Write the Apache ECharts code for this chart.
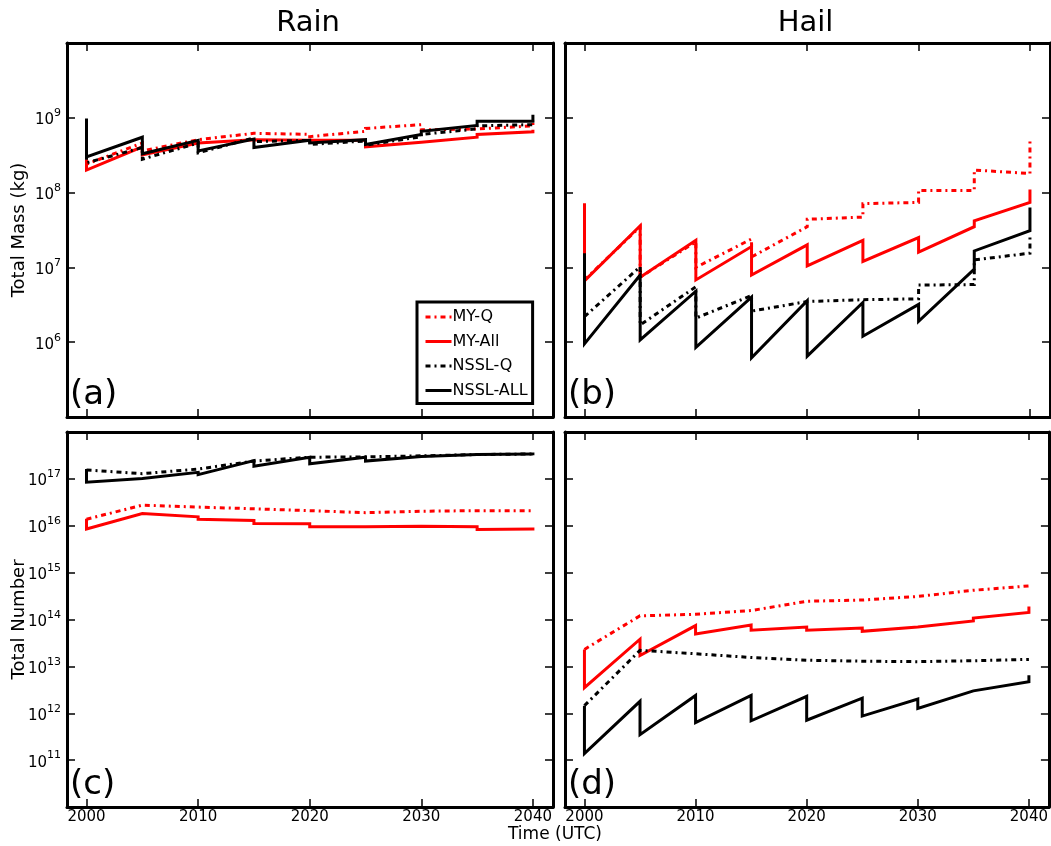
<!DOCTYPE html>
<html>
<head>
<meta charset="utf-8">
<script src="https://cdn.jsdelivr.net/npm/echarts@6/dist/echarts.min.js"></script>
<style>
html,body{margin:0;padding:0;background:#fff;}
#chart{width:1051px;height:846px;}
</style>
</head>
<body>
<div id="chart"></div>
<script>
// ---------- data ----------
const panelTitles = ['Rain', 'Hail'];
const panelLetters = ['(a)', '(b)', '(c)', '(d)'];
const yAxisNames = ['Total Mass (kg)', 'Total Number'];
const xAxisName = 'Time (UTC)';
const xTickValues = [2000, 2010, 2020, 2030, 2040];
const seriesNames = ['MY-Q', 'MY-All', 'NSSL-Q', 'NSSL-ALL'];

// (a) Rain total mass [time, kg]
const rainMassMYQ = [[2000,2.6e8],[2000,2.4e8],[2005,4.6e8],[2005,3.6e8],[2010,5.1e8],[2015,6.2e8],[2020,6.0e8],[2020,5.6e8],[2025,6.6e8],[2025,7.2e8],[2030,8.1e8],[2030,6.9e8],[2035,7.1e8],[2040,7.8e8],[2040,8.5e8]];
const rainMassMYAll = [[2000,2.8e8],[2000,2.0e8],[2005,4.1e8],[2005,3.2e8],[2010,4.6e8],[2010,4.5e8],[2015,5.1e8],[2015,4.8e8],[2020,5.0e8],[2020,4.8e8],[2025,5.0e8],[2025,4.1e8],[2030,4.7e8],[2035,5.5e8],[2035,6.0e8],[2040,6.5e8],[2040,6.9e8]];
const rainMassNSSLQ = [[2000,3.2e8],[2000,2.5e8],[2005,4.0e8],[2005,2.8e8],[2010,4.6e8],[2010,3.4e8],[2015,5.4e8],[2015,4.8e8],[2020,5.0e8],[2020,4.4e8],[2025,4.9e8],[2025,4.3e8],[2030,5.6e8],[2030,6.0e8],[2035,7.1e8],[2035,7.8e8],[2040,8.1e8],[2040,9.1e8]];
const rainMassNSSLAll = [[2000,9.8e8],[2000,3.0e8],[2005,5.5e8],[2005,3.3e8],[2010,5.0e8],[2010,3.6e8],[2015,5.2e8],[2015,4.0e8],[2020,5.0e8],[2020,4.6e8],[2025,5.1e8],[2025,4.4e8],[2030,6.0e8],[2030,6.6e8],[2035,7.9e8],[2035,9.0e8],[2040,9.0e8],[2040,1.1e9]];

// (b) Hail total mass [time, kg]
const hailMassMYQ = [[2000,6.8e6],[2005,3.5e7],[2005,7.4e6],[2010,2.2e7],[2010,1.0e7],[2015,2.4e7],[2015,1.38e7],[2020,3.5e7],[2020,4.4e7],[2025,4.7e7],[2025,7.1e7],[2030,7.4e7],[2030,1.07e8],[2035,1.07e8],[2035,2.0e8],[2040,1.8e8],[2040,5.1e8]];
const hailMassMYAll = [[2000,7.2e7],[2000,6.6e6],[2005,3.6e7],[2005,7.4e6],[2010,2.3e7],[2010,6.8e6],[2015,1.9e7],[2015,7.9e6],[2020,2.0e7],[2020,1.05e7],[2025,2.3e7],[2025,1.2e7],[2030,2.5e7],[2030,1.6e7],[2035,3.5e7],[2035,4.2e7],[2040,7.4e7],[2040,1.1e8]];
const hailMassNSSLQ = [[2000,2.2e6],[2005,1.02e7],[2005,1.7e6],[2010,5.5e6],[2010,2.1e6],[2015,4.2e6],[2015,2.6e6],[2020,3.5e6],[2025,3.7e6],[2030,3.8e6],[2030,5.8e6],[2035,5.9e6],[2035,1.26e7],[2040,1.55e7],[2040,2.7e7]];
const hailMassNSSLAll = [[2000,1.55e7],[2000,9.5e5],[2005,7.9e6],[2005,1.07e6],[2010,4.8e6],[2010,8.5e5],[2015,4.0e6],[2015,6.2e5],[2020,3.6e6],[2020,6.5e5],[2025,3.4e6],[2025,1.2e6],[2030,3.2e6],[2030,1.9e6],[2035,9.5e6],[2035,1.66e7],[2040,3.1e7],[2040,6.3e7]];

// (c) Rain total number [time, count]
const rainNumMYQ = [[2000,1.38e16],[2005,2.75e16],[2010,2.5e16],[2015,2.3e16],[2020,2.1e16],[2025,1.9e16],[2030,2.04e16],[2035,2.1e16],[2040,2.1e16]];
const rainNumMYAll = [[2000,1.41e16],[2000,8.5e15],[2005,1.82e16],[2010,1.55e16],[2010,1.38e16],[2015,1.29e16],[2015,1.12e16],[2020,1.1e16],[2020,9.5e15],[2025,9.5e15],[2025,8.9e15],[2030,9.8e15],[2030,8.9e15],[2035,9.5e15],[2035,8.3e15],[2040,8.5e15],[2040,7.9e15]];
const rainNumNSSLQ = [[2000,1.55e17],[2005,1.29e17],[2010,1.62e17],[2015,2.4e17],[2020,2.9e17],[2025,2.95e17],[2030,3.1e17],[2035,3.3e17],[2040,3.4e17]];
const rainNumNSSLAll = [[2000,1.62e17],[2000,8.5e16],[2005,1.02e17],[2010,1.38e17],[2010,1.23e17],[2015,2.45e17],[2015,1.86e17],[2020,2.9e17],[2020,2.1e17],[2025,2.9e17],[2025,2.4e17],[2030,3.0e17],[2035,3.3e17],[2035,3.2e17],[2040,3.4e17],[2040,3.2e17]];

// (d) Hail total number [time, count]
const hailNumMYQ = [[2000,2.3e13],[2005,1.2e14],[2010,1.29e14],[2015,1.55e14],[2020,2.45e14],[2025,2.6e14],[2030,3.1e14],[2035,4.2e14],[2040,5.2e14]];
const hailNumMYAll = [[2000,2.3e13],[2000,3.5e12],[2005,3.8e13],[2005,1.7e13],[2010,7.4e13],[2010,4.9e13],[2015,7.6e13],[2015,5.9e13],[2020,6.9e13],[2020,5.9e13],[2025,6.6e13],[2025,5.6e13],[2030,6.9e13],[2030,6.3e13],[2035,9.3e13],[2035,1.07e14],[2040,1.41e14],[2040,1.9e14]];
const hailNumNSSLQ = [[2000,1.45e12],[2005,2.2e13],[2010,1.86e13],[2015,1.55e13],[2020,1.35e13],[2025,1.29e13],[2030,1.26e13],[2035,1.32e13],[2040,1.41e13]];
const hailNumNSSLAll = [[2000,1.45e12],[2000,1.38e11],[2005,1.8e12],[2005,3.5e11],[2010,2.4e12],[2010,6.3e11],[2015,2.4e12],[2015,6.9e11],[2020,2.3e12],[2020,7.1e11],[2025,2.1e12],[2025,8.7e11],[2030,2.0e12],[2030,1.26e12],[2035,3.0e12],[2040,4.7e12],[2040,6.5e12]];

const panelData = [
  [rainMassMYQ, rainMassMYAll, rainMassNSSLQ, rainMassNSSLAll],
  [hailMassMYQ, hailMassMYAll, hailMassNSSLQ, hailMassNSSLAll],
  [rainNumMYQ, rainNumMYAll, rainNumNSSLQ, rainNumNSSLAll],
  [hailNumMYQ, hailNumMYAll, hailNumNSSLQ, hailNumNSSLAll]
];
const yRanges = [[1e5, 1e10], [1e5, 1e10], [1e10, 1e18], [1e10, 1e18]];
const xRange = [1998.25, 2041.8];

// ---------- styling ----------
const FONT = 'DejaVu Sans';
const seriesColors = ['#ff0000', '#ff0000', '#000000', '#000000'];
const dashDot = [5, 4, 2, 4];
const seriesDash = [dashDot, 'solid', dashDot, 'solid'];

const grids = [
  {left: 67, top: 43, width: 486, height: 374},
  {left: 565, top: 43, width: 485, height: 374},
  {left: 67, top: 432, width: 486, height: 375},
  {left: 565, top: 432, width: 485, height: 375}
];

const axisLine = {show: true, onZero: false, lineStyle: {color: '#000', width: 3}};
const xAxes = [], yAxes = [], series = [];
grids.forEach((g, i) => {
  const bottomRow = i >= 2, leftCol = (i % 2 === 0);
  const xBase = {
    type: 'value', gridIndex: i, min: xRange[0], max: xRange[1],
    axisLine: axisLine, splitLine: {show: false},
    axisTick: {show: true, inside: true, length: 8, lineStyle: {color: '#000', width: 1.5}, customValues: xTickValues}
  };
  xAxes.push(Object.assign({}, xBase, {
    position: 'bottom',
    axisLabel: {show: bottomRow, customValues: xTickValues, fontFamily: FONT, fontSize: 15, color: '#000', margin: 3, formatter: v => String(v)}
  }));
  xAxes.push(Object.assign({}, xBase, {position: 'top', axisLabel: {show: false}}));
  const yBase = {
    type: 'log', logBase: 10, gridIndex: i, min: yRanges[i][0], max: yRanges[i][1], interval: 1,
    axisLine: axisLine, splitLine: {show: false},
    axisTick: {show: true, inside: true, length: 8, lineStyle: {color: '#000', width: 1.5}}
  };
  yAxes.push(Object.assign({}, yBase, {
    position: 'left',
    axisLabel: {
      show: leftCol, showMinLabel: false, showMaxLabel: false, margin: 6,
      formatter: v => '{b|10}{e|' + Math.round(Math.log10(v)) + '}',
      rich: {
        b: {fontFamily: FONT, fontSize: 15, color: '#000', verticalAlign: 'bottom', lineHeight: 20},
        e: {fontFamily: FONT, fontSize: 11, color: '#000', verticalAlign: 'top', lineHeight: 20}
      }
    }
  }));
  yAxes.push(Object.assign({}, yBase, {position: 'right', axisLabel: {show: false}}));
  panelData[i].forEach((d, k) => {
    series.push({
      name: seriesNames[k], type: 'line', xAxisIndex: 2 * i, yAxisIndex: 2 * i,
      data: d, symbol: 'none', showSymbol: false, animation: false, silent: true,
      itemStyle: {color: seriesColors[k]},
      lineStyle: {color: seriesColors[k], width: 3, type: seriesDash[k], cap: 'butt', join: 'miter'}
    });
  });
});

const graphics = [];
panelTitles.forEach((t, i) => {
  graphics.push({type: 'text', x: grids[i].left + grids[i].width / 2 - 2, y: 23,
    style: {text: t, font: '29px "' + FONT + '"', fill: '#000', textAlign: 'center', textVerticalAlign: 'middle'}});
});
panelLetters.forEach((t, i) => {
  graphics.push({type: 'text', x: grids[i].left + 3, y: grids[i].top + grids[i].height - 22,
    style: {text: t, font: '34px "' + FONT + '"', fill: '#000', textAlign: 'left', textVerticalAlign: 'middle'}});
});
yAxisNames.forEach((t, i) => {
  graphics.push({type: 'text', x: 19, y: grids[2 * i].top + grids[2 * i].height / 2, rotation: Math.PI / 2,
    style: {text: t, font: '18px "' + FONT + '"', fill: '#000', textAlign: 'center', textVerticalAlign: 'middle'}});
});
graphics.push({type: 'text', x: 555, y: 835,
  style: {text: xAxisName, font: '17px "' + FONT + '"', fill: '#000', textAlign: 'center', textVerticalAlign: 'middle'}});

const chart = echarts.init(document.getElementById('chart'), null, {renderer: 'canvas'});
chart.setOption({
  animation: false,
  backgroundColor: '#fff',
  grid: grids,
  xAxis: xAxes,
  yAxis: yAxes,
  legend: {
    data: seriesNames, orient: 'vertical', left: 417, top: 302,
    borderColor: '#000', borderWidth: 3, padding: [7, 5, 5, 7], itemGap: 8.5,
    itemWidth: 26, itemHeight: 14, backgroundColor: '#fff',
    itemStyle: {opacity: 0},
    lineStyle: {width: 3},
    textStyle: {fontFamily: FONT, fontSize: 16, color: '#000', padding: [0, 0, 0, -4]},
    selectedMode: false
  },
  graphic: graphics,
  series: series
});
</script>
</body>
</html>
